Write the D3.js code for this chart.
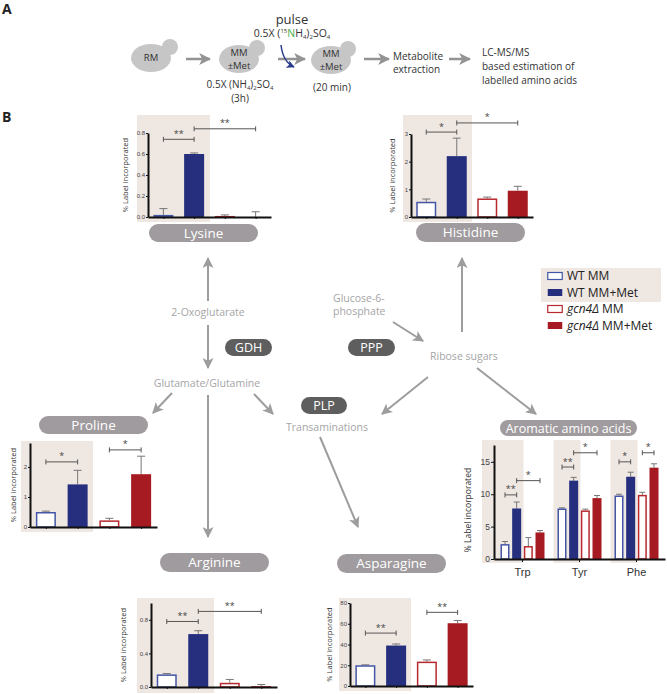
<!DOCTYPE html>
<html>
<head>
<meta charset="utf-8">
<script src="https://cdn.jsdelivr.net/npm/d3@7"></script>
<style>
  body { margin: 0; background: #fff; }
  svg { display: block; font-family: "Open Sans", sans-serif; }
</style>
</head>
<body>
<svg id="fig" width="667" height="694"></svg>
<script>
// ---- data ----
var groups = ["WT MM", "WT MM+Met", "gcn4Δ MM", "gcn4Δ MM+Met"];

var lysineMean = [0.02, 0.60, 0.01, 0.00];
var lysineErr = [0.06, 0.01, 0.01, 0.05];
var lysineSig = [[0, 1, 0.74, "**"], [1, 3, 0.84, "**"]];

var histidineMean = [0.55, 2.2, 0.67, 0.95];
var histidineErr = [0.10, 0.65, 0.05, 0.16];
var histidineSig = [[0, 1, 3.07, "*"], [1, 3, 3.4, "*"]];

var prolineMean = [0.50, 1.42, 0.22, 1.76];
var prolineErr = [0.03, 0.47, 0.07, 0.60];
var prolineSig = [[0, 1, 2.17, "*"], [2, 3, 2.57, "*"]];

var arginineMean = [0.15, 0.63, 0.05, 0.01];
var arginineErr = [0.01, 0.04, 0.04, 0.02];
var arginineSig = [[0, 1, 0.78, "**"], [1, 3, 0.9, "**"]];

var asparagineMean = [20, 39, 23.5, 60.5];
var asparagineErr = [0.4, 1.5, 1.6, 2.6];
var asparagineSig = [[0, 1, 51, "**"], [2, 3, 71, "**"]];

var aromaticAcids = ["Trp", "Tyr", "Phe"];
var aromaticMean = [[2.3, 7.8, 2.0, 4.1], [7.8, 12.1, 7.5, 9.4], [9.8, 12.7, 9.9, 14.1]];
var aromaticErr = [[0.4, 1.0, 1.3, 0.3], [0.1, 0.5, 0.2, 0.4], [0.2, 0.7, 0.4, 0.6]];
// [acid, from bar, to bar, level, label]
var aromaticSig = [[0, 0, 1, 9.9, "**"], [0, 1, 3, 12.1, "*"], [1, 0, 1, 14.2, "**"],
                   [1, 1, 3, 16.4, "*"], [2, 0, 1, 15.0, "*"], [2, 2, 3, 16.4, "*"]];

// ---- styles ----
var barFill = ["#fff", "#252f7e", "#fff", "#a51b21"];
var barStroke = ["#4456a6", "#252f7e", "#b8292f", "#a51b21"];
var shadeColor = "#efe7e2";
var arrowGrey = "#9d9d9d";
var pillGrey = "#a09b9e";
var enzymeGrey = "#5e5e5e";
var textGrey = "#a5a5a5";

var svg = d3.select("#fig");
var defs = svg.append("defs");

function marker(id, color, size) {
  defs.append("marker")
    .attr("id", id)
    .attr("viewBox", "0 0 10 10")
    .attr("refX", 9).attr("refY", 5)
    .attr("markerWidth", size).attr("markerHeight", size)
    .attr("markerUnits", "userSpaceOnUse")
    .attr("orient", "auto")
    .append("path")
    .attr("d", "M0,0L10,5L0,10L2.5,5Z")
    .attr("fill", color);
}
marker("head", arrowGrey, 11);
marker("headA", "#939393", 12);
marker("headBlue", "#2b3a8a", 8);

function arrow(x1, y1, x2, y2, id, w) {
  svg.append("line")
    .attr("x1", x1).attr("y1", y1).attr("x2", x2).attr("y2", y2)
    .attr("stroke", id == "headA" ? "#939393" : arrowGrey)
    .attr("stroke-width", w || 2)
    .attr("marker-end", "url(#" + id + ")");
}

function pill(x, y, w, h, label, fill, size) {
  svg.append("rect")
    .attr("x", x).attr("y", y).attr("width", w).attr("height", h)
    .attr("rx", h / 2).attr("fill", fill);
  svg.append("text")
    .attr("x", x + w / 2).attr("y", y + h / 2)
    .attr("dy", "0.36em")
    .attr("text-anchor", "middle")
    .attr("fill", "#fff")
    .attr("font-size", size)
    .text(label);
}

function label(x, y, str, opts) {
  opts = opts || {};
  return svg.append("text")
    .attr("x", x).attr("y", y)
    .attr("dy", "0.35em")
    .attr("text-anchor", opts.anchor || "middle")
    .attr("fill", opts.color || textGrey)
    .attr("font-size", opts.size || 10.5)
    .text(str);
}

// ---- panel A ----
svg.append("text").attr("x", 2).attr("y", 14).attr("font-size", 14)
  .attr("font-weight", "bold").attr("fill", "#222").text("A");

function cell(cx, cy, bx, by, lines) {
  svg.append("ellipse").attr("cx", cx).attr("cy", cy).attr("rx", 20).attr("ry", 14).attr("fill", "#c6c6c6");
  svg.append("circle").attr("cx", bx).attr("cy", by).attr("r", 8).attr("fill", "#c6c6c6");
  lines.forEach(function(t, i) {
    label(cx, cy + (i - (lines.length - 1) / 2) * 13.5, t, { color: "#333", size: 9.5 });
  });
}
cell(151, 58, 170, 47, ["RM"]);
cell(239, 59, 257, 48, ["MM", "±Met"]);
cell(331, 60, 348, 49, ["MM", "±Met"]);

arrow(186, 59, 210, 59, "headA", 2.5);
arrow(278, 59, 305, 59, "headA", 2.5);
arrow(364, 59, 389, 59, "headA", 2.5);
arrow(449, 59, 470, 59, "headA", 2.5);

label(292, 19, "pulse", { color: "#333", size: 13 });

var pulseText = svg.append("text").attr("x", 292).attr("y", 37)
  .attr("text-anchor", "middle").attr("fill", "#333").attr("font-size", 10.5);
pulseText.append("tspan").text("0.5X (");
pulseText.append("tspan").attr("font-size", 6).attr("dy", -4).text("15");
pulseText.append("tspan").attr("fill", "#3fae49").attr("dy", 4).text("N");
pulseText.append("tspan").text("H");
pulseText.append("tspan").attr("font-size", 6).attr("dy", 2).text("4");
pulseText.append("tspan").attr("dy", -2).text(")");
pulseText.append("tspan").attr("font-size", 6).attr("dy", 2).text("2");
pulseText.append("tspan").attr("dy", -2).text("SO");
pulseText.append("tspan").attr("font-size", 6).attr("dy", 2).text("4");

svg.append("path")
  .attr("d", "M281,45 Q283,62 294,67")
  .attr("fill", "none").attr("stroke", "#2b3a8a").attr("stroke-width", 1.5)
  .attr("marker-end", "url(#headBlue)");

var nh4 = svg.append("text").attr("x", 240).attr("y", 88)
  .attr("text-anchor", "middle").attr("fill", "#333").attr("font-size", 10);
nh4.append("tspan").text("0.5X (NH");
nh4.append("tspan").attr("font-size", 6).attr("dy", 2).text("4");
nh4.append("tspan").attr("dy", -2).text(")");
nh4.append("tspan").attr("font-size", 6).attr("dy", 2).text("2");
nh4.append("tspan").attr("dy", -2).text("SO");
nh4.append("tspan").attr("font-size", 6).attr("dy", 2).text("4");
label(240, 98, "(3h)", { color: "#333", size: 10 });
label(332, 87, "(20 min)", { color: "#333", size: 10 });

label(393, 56, "Metabolite", { color: "#333", size: 10, anchor: "start" });
label(393, 69, "extraction", { color: "#333", size: 10, anchor: "start" });
label(482, 52, "LC-MS/MS", { color: "#333", size: 10, anchor: "start" });
label(482, 66, "based estimation of", { color: "#333", size: 10, anchor: "start" });
label(482, 80, "labelled amino acids", { color: "#333", size: 10, anchor: "start" });

// ---- panel B : pathway ----
svg.append("text").attr("x", 2).attr("y", 122).attr("font-size", 14)
  .attr("font-weight", "bold").attr("fill", "#222").text("B");

arrow(208, 301, 208, 258, "head");
arrow(208, 325, 208, 368, "head");
arrow(172, 393, 153, 413, "head");
arrow(208, 395, 208, 537, "head");
arrow(254, 394, 273, 414, "head");
arrow(320, 437, 358, 527, "head");
arrow(393, 322, 423, 341, "head");
arrow(462, 332, 462, 258, "head");
arrow(428, 377, 382, 414, "head");
arrow(477, 368, 536, 414, "head");

label(208, 312, "2-Oxoglutarate");
label(207, 383, "Glutamate/Glutamine");
label(327, 427, "Transaminations");
label(333, 298, "Glucose-6-", { anchor: "start" });
label(333, 311, "phosphate", { anchor: "start" });
label(430, 356, "Ribose sugars", { anchor: "start" });

pill(225, 339, 47, 17, "GDH", enzymeGrey, 12.5);
pill(348, 339, 47, 17, "PPP", enzymeGrey, 12.5);
pill(301, 397, 46, 17, "PLP", enzymeGrey, 12.5);

pill(149, 224, 109, 18, "Lysine", pillGrey, 13.5);
pill(416, 223, 109, 19, "Histidine", pillGrey, 13.5);
pill(39, 416, 109, 18, "Proline", pillGrey, 13.5);
pill(500, 420, 137, 16, "Aromatic amino acids", pillGrey, 12.5);
pill(160, 553, 109, 19, "Arginine", pillGrey, 13.5);
pill(337, 554, 109, 19, "Asparagine", pillGrey, 13.5);

// ---- bar charts ----
function styleAxis(a, size) {
  a.select(".domain").attr("stroke", "#111").attr("stroke-width", 2);
  a.selectAll(".tick line").attr("stroke", "#111");
  a.selectAll(".tick text").attr("fill", "#444").attr("font-size", size);
}

function drawBar(g, cx, bw, v, e, i, y, y0, cap) {
  var open = barFill[i] == "#fff";
  var top = y(v);
  g.append("line")
    .attr("x1", cx).attr("x2", cx).attr("y1", top).attr("y2", y(v + e))
    .attr("stroke", "#777").attr("stroke-width", 1);
  g.append("line")
    .attr("x1", cx - cap / 2).attr("x2", cx + cap / 2).attr("y1", y(v + e)).attr("y2", y(v + e))
    .attr("stroke", "#777").attr("stroke-width", 1);
  g.append("rect")
    .attr("x", cx - bw / 2 + (open ? 0.75 : 0))
    .attr("y", top + (open ? 0.75 : 0))
    .attr("width", bw - (open ? 1.5 : 0))
    .attr("height", Math.max(0, y0 - top - (open ? 0.75 : 0)))
    .attr("fill", barFill[i])
    .attr("stroke", open ? barStroke[i] : "none")
    .attr("stroke-width", 1.5);
}

function bracket(g, xa, xb, yy, txt, size) {
  g.append("path")
    .attr("d", "M" + xa + "," + (yy - 2.5) + "V" + (yy + 2.5) + "M" + xa + "," + yy + "H" + xb +
               "M" + xb + "," + (yy - 2.5) + "V" + (yy + 2.5))
    .attr("fill", "none").attr("stroke", "#555").attr("stroke-width", 1);
  g.append("text")
    .attr("x", (xa + xb) / 2).attr("y", yy - 2.5)
    .attr("text-anchor", "middle").attr("fill", "#444")
    .attr("font-size", size).text(txt);
}

function yTitle(g, x, y, size) {
  g.append("text")
    .attr("transform", "translate(" + x + "," + y + ") rotate(-90)")
    .attr("text-anchor", "middle").attr("dy", "0.35em")
    .attr("fill", "#333").attr("font-size", size)
    .text("% Label incorporated");
}

function smallChart(c) {
  var g = svg.append("g");
  var x = d3.scalePoint().domain(d3.range(groups.length)).range([c.x0, c.x1]).padding(0.5);
  var y = d3.scaleLinear().domain([0, c.max]).range([c.y0, c.yTop]);

  g.append("rect")
    .attr("x", c.shade[0]).attr("y", c.shade[1])
    .attr("width", c.shade[2] - c.shade[0]).attr("height", c.shade[3] - c.shade[1])
    .attr("fill", shadeColor);

  c.mean.forEach(function(v, i) {
    drawBar(g, x(i), 20, v, c.err[i], i, y, c.y0, 8);
  });

  var ya = g.append("g").attr("transform", "translate(" + c.x0 + ",0)")
    .call(d3.axisLeft(y).tickValues(c.ticks).tickFormat(d3.format(c.fmt)).tickSize(2).tickSizeOuter(0).tickPadding(1));
  styleAxis(ya, 6);
  var xa = g.append("g").attr("transform", "translate(0," + c.y0 + ")")
    .call(d3.axisBottom(x).tickFormat("").tickSize(2).tickSizeOuter(0));
  styleAxis(xa, 6);

  c.sig.forEach(function(s) {
    bracket(g, x(s[0]), x(s[1]), y(s[2]), s[3], 9);
  });
  yTitle(g, c.x0 - c.titleOff, (c.y0 + c.yTop) / 2, 7.5);
}

smallChart({ mean: lysineMean, err: lysineErr, sig: lysineSig, x0: 148, x1: 271, y0: 217, yTop: 133,
  max: 0.8, ticks: [0, 0.2, 0.4, 0.6, 0.8], fmt: ".1f", shade: [137, 115, 210, 222], titleOff: 23 });
smallChart({ mean: histidineMean, err: histidineErr, sig: histidineSig, x0: 411, x1: 533, y0: 217, yTop: 134,
  max: 3, ticks: [0, 1, 2, 3], fmt: "d", shade: [403, 115, 472, 222], titleOff: 19 });
smallChart({ mean: prolineMean, err: prolineErr, sig: prolineSig, x0: 30, x1: 157, y0: 527, yTop: 443,
  max: 2.8, ticks: [0, 1, 2], fmt: "d", shade: [21, 441, 93, 532], titleOff: 17 });
smallChart({ mean: arginineMean, err: arginineErr, sig: arginineSig, x0: 151, x1: 277, y0: 687, yTop: 603,
  max: 1.0, ticks: [0, 0.4, 0.8], fmt: ".1f", shade: [137, 598, 214, 693], titleOff: 28 });
smallChart({ mean: asparagineMean, err: asparagineErr, sig: asparagineSig, x0: 350, x1: 473, y0: 686, yTop: 603,
  max: 80, ticks: [0, 20, 40, 60, 80], fmt: "d", shade: [339, 598, 411, 691], titleOff: 21 });

// aromatic amino acids: grouped bars
(function() {
  var g = svg.append("g");
  var x0 = 494, x1 = 665, y0 = 559, yTop = 445;
  var gx = d3.scaleBand().domain(aromaticAcids).range([x0, x1]);
  var bx = d3.scalePoint().domain(d3.range(groups.length)).range([-17.5, 17.5]);
  var y = d3.scaleLinear().domain([0, 17.6]).range([y0, yTop]);
  var mid = function(a) { return gx(a) + gx.bandwidth() / 2; };

  aromaticAcids.forEach(function(a, k) {
    var left = k == 0 ? x0 - 12 : mid(a) - 26;
    g.append("rect").attr("x", left).attr("y", 440)
      .attr("width", mid(a) + 1 - left).attr("height", 123).attr("fill", shadeColor);
  });

  aromaticAcids.forEach(function(a, k) {
    aromaticMean[k].forEach(function(v, i) {
      drawBar(g, mid(a) + bx(i), 9, v, aromaticErr[k][i], i, y, y0, 6);
    });
  });

  var ya = g.append("g").attr("transform", "translate(" + x0 + ",0)")
    .call(d3.axisLeft(y).tickValues([0, 5, 10, 15]).tickSize(3).tickSizeOuter(0).tickPadding(1));
  styleAxis(ya, 8.5);
  var xa = g.append("g").attr("transform", "translate(0," + y0 + ")")
    .call(d3.axisBottom(gx).tickSize(3).tickSizeOuter(0).tickPadding(6));
  styleAxis(xa, 11);
  xa.selectAll(".tick text").attr("fill", "#333");

  aromaticSig.forEach(function(s) {
    var a = aromaticAcids[s[0]];
    bracket(g, mid(a) + bx(s[1]), mid(a) + bx(s[2]), y(s[3]), s[4], 9);
  });
  yTitle(g, x0 - 26, 510, 8.5);
})();

// ---- legend ----
svg.append("rect").attr("x", 541).attr("y", 268).attr("width", 120).attr("height", 34).attr("fill", shadeColor);
var legend = svg.append("g");
groups.forEach(function(name, i) {
  var yy = [276, 292.5, 309, 325.5][i];
  var open = barFill[i] == "#fff";
  legend.append("rect")
    .attr("x", 547.75).attr("y", yy - 3.5).attr("width", 14.5).attr("height", 7)
    .attr("fill", barFill[i]).attr("stroke", barStroke[i]).attr("stroke-width", open ? 1.2 : 0);
  var t = legend.append("text").attr("x", 567).attr("y", yy).attr("dy", "0.36em")
    .attr("font-size", 12).attr("fill", "#222");
  if (name.indexOf("gcn4Δ") == 0) {
    t.append("tspan").attr("font-style", "italic").text("gcn4Δ");
    t.append("tspan").text(name.slice(5));
  } else {
    t.text(name);
  }
});
</script>
</body>
</html>
